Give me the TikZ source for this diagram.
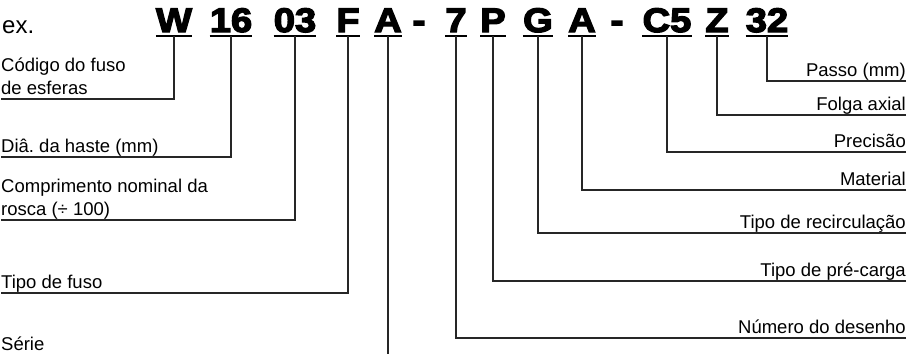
\documentclass[tikz,border=0pt]{standalone}
\usepackage{fontspec}
\setmainfont{Liberation Sans}
\newfontfamily\codefont[FakeBold=4,FakeStretch=1.12]{Liberation Sans Bold}

\begin{document}
\frenchspacing
\begin{tikzpicture}[x=1pt, y=-1pt, lbl/.style={font=\fontsize{18.5}{23}\selectfont, inner sep=0pt, outer ysep=5pt, text depth=0pt, align=left, anchor=south west}, rlbl/.style={lbl, align=right, anchor=south east}, code/.style={font=\codefont\fontsize{34}{34}\selectfont, inner xsep=0pt, inner ysep=4pt, text depth=0pt, anchor=base}, uline/.style={line width=1.8pt}, conn/.style={line width=1.1pt, draw=black!85}]
\useasboundingbox (0,0) rectangle (913,356);
\node[anchor=base west, inner sep=0pt, font=\fontsize{24}{24}\selectfont] (ex) at (2,33) {ex.};
\node[code] (cW) at (174,32) {W};
\node[code] (c16) at (231,32) {16};
\node[code] (c03) at (295,32) {03};
\node[code] (cF) at (348,32) {F};
\node[code] (cA) at (388,32) {A};
\node[code] (d1) at (419,32) {-};
\node[code] (c7) at (456,32) {7};
\node[code] (cP) at (493,32) {P};
\node[code] (cG) at (538,32) {G};
\node[code] (cA2) at (582,32) {A};
\node[code] (d2) at (617,32) {-};
\node[code] (cC5) at (667,32) {C5};
\node[code] (cZ) at (717,32) {Z};
\node[code] (c32) at (767,32) {32};
\foreach \n in {cW,c16,c03,cF,cA,c7,cP,cG,cA2,cC5,cZ,c32}
  \draw[uline] (\n.south west) -- (\n.south east);
\node[lbl] (lCodigo) at (1,99) {Código do fuso\\de esferas};
\node[lbl] (lDia) at (1,157) {Diâ. da haste (mm)};
\node[lbl] (lComp) at (1,220) {Comprimento nominal da\\rosca (÷ 100)};
\node[lbl] (lFuso) at (1,293) {Tipo de fuso};
\node[lbl] (lSerie) at (1,355) {Série};
\node[rlbl] (lPasso) at (906,81) {Passo (mm)};
\node[rlbl] (lFolga) at (906,115) {Folga axial};
\node[rlbl] (lPrecisao) at (906,152) {Precisão};
\node[rlbl] (lMaterial) at (906,190) {Material};
\node[rlbl] (lRecirc) at (906,233) {Tipo de recirculação};
\node[rlbl] (lCarga) at (906,281) {Tipo de pré-carga};
\node[rlbl] (lDesenho) at (906,338) {Número do desenho};
\coordinate (serieEnd) at (cA.south |- 0,354);
\draw[conn] (lCodigo.south west) -| (cW.south);
\draw[conn] (lDia.south west) -| (c16.south);
\draw[conn] (lComp.south west) -| (c03.south);
\draw[conn] (lFuso.south west) -| (cF.south);
\draw[conn] (cA.south) -- (serieEnd);
\draw[conn] (lDesenho.south east) -| (c7.south);
\draw[conn] (lCarga.south east) -| (cP.south);
\draw[conn] (lRecirc.south east) -| (cG.south);
\draw[conn] (lMaterial.south east) -| (cA2.south);
\draw[conn] (lPrecisao.south east) -| (cC5.south);
\draw[conn] (lFolga.south east) -| (cZ.south);
\draw[conn] (lPasso.south east) -| (c32.south);
\end{tikzpicture}
\end{document}
